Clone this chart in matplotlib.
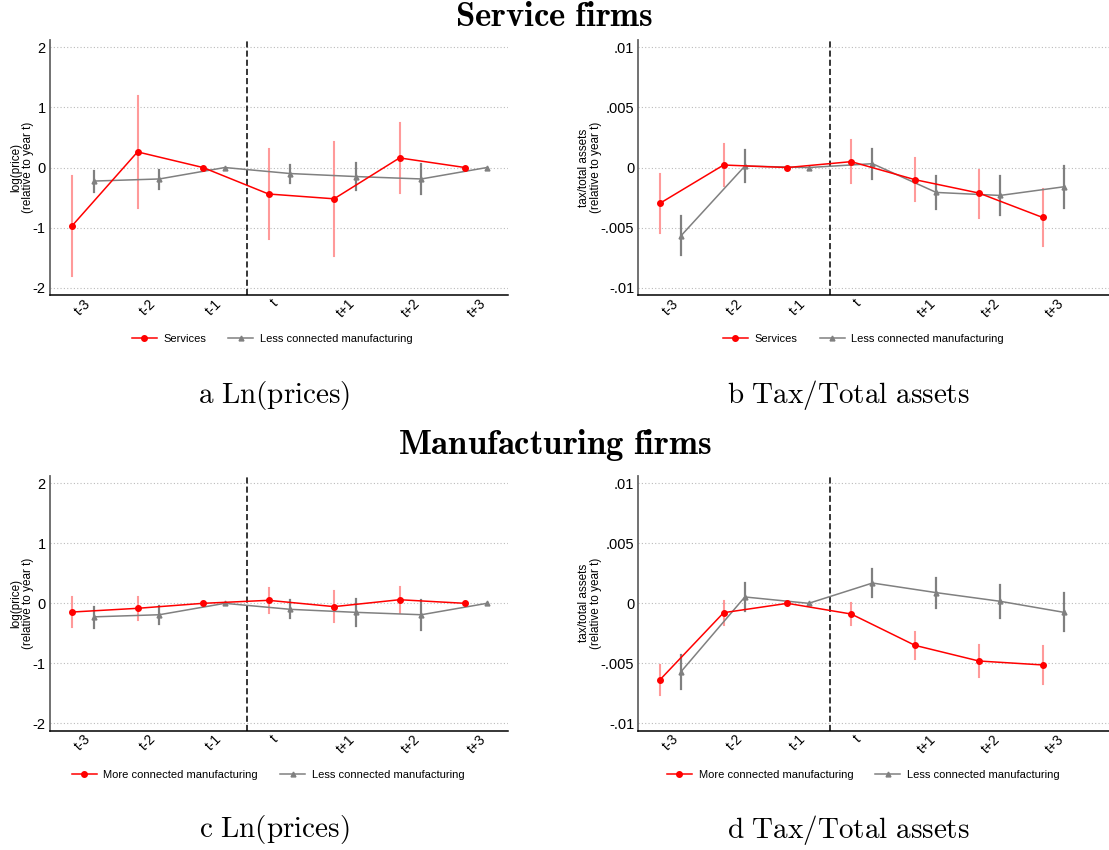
import numpy as np
import matplotlib
matplotlib.use('Agg')
import matplotlib.pyplot as plt

plt.rcParams['font.family'] = ['Liberation Sans', 'DejaVu Sans']
plt.rcParams['mathtext.fontset'] = 'cm'

# Event-time labels ###########################################
periods = ['t-3', 't-2', 't-1', 't', 't+1', 't+2', 't+3']

# Log prices ##################################################
price_services = [-0.97, 0.26, 0.0, -0.44, -0.52, 0.16, 0.0]
price_services_lo = [-1.80, -0.67, 0.0, -1.19, -1.47, -0.43, 0.0]
price_services_hi = [-0.14, 1.19, 0.0, 0.31, 0.42, 0.74, 0.0]

price_more = [-0.145, -0.083, 0.0, 0.05, -0.055, 0.06, 0.0]
price_more_lo = [-0.40, -0.28, 0.0, -0.155, -0.315, -0.155, 0.0]
price_more_hi = [0.10, 0.105, 0.0, 0.25, 0.205, 0.27, 0.0]

price_less = [-0.225, -0.19, 0.0, -0.10, -0.15, -0.19, 0.0]
price_less_lo = [-0.41, -0.35, 0.0, -0.25, -0.38, -0.44, 0.0]
price_less_hi = [-0.06, -0.04, 0.0, 0.05, 0.07, 0.06, 0.0]

# Tax over total assets #######################################
tax_services = [-0.00298, 0.00021, 0.0, 0.00049, -0.00101, -0.00212, -0.00415]
tax_services_lo = [-0.00545, -0.00157, 0.0, -0.00129, -0.00282, -0.00417, -0.0065]
tax_services_hi = [-0.00057, 0.00196, 0.0, 0.00226, 0.00079, -0.00018, -0.00176]

tax_less_s = [-0.00567, 0.00012, 0.0, 0.00032, -0.00207, -0.00232, -0.0016]
tax_less_s_lo = [-0.0073, -0.00123, 0.0, -0.00093, -0.00343, -0.00392, -0.00337]
tax_less_s_hi = [-0.00406, 0.00146, 0.0, 0.00154, -0.00068, -0.00074, 0.00012]

tax_more = [-0.00638, -0.00078, 0.0, -0.00089, -0.0035, -0.0048, -0.00513]
tax_more_lo = [-0.00766, -0.0018, 0.0, -0.0018, -0.0046, -0.0061, -0.0067]
tax_more_hi = [-0.0051, 0.00022, 0.0, 0.00003, -0.00239, -0.00344, -0.00352]

tax_less_m = [-0.00569, 0.00053, 0.0, 0.00169, 0.00089, 0.00017, -0.00075]
tax_less_m_lo = [-0.0071, -0.00067, 0.0, 0.00053, -0.00036, -0.00125, -0.00233]
tax_less_m_hi = [-0.0043, 0.00172, 0.0, 0.00286, 0.00214, 0.00155, 0.00086]

price_ticks = [2, 1, 0, -1, -2]
price_ticklabels = ['2', '1', '0', '-1', '-2']
tax_ticks = [0.01, 0.005, 0, -0.005, -0.01]
tax_ticklabels = ['.01', '.005', '0', '-.005', '-.01']

RED = '#ff0000'
GRAY = '#808080'
SHIFT = 0.333


def draw_panel(ax, red, red_lo, red_hi, red_name, gray, gray_lo, gray_hi,
               ylim, ticks, ticklabels, ylabel, xmax, leg_x):
    x = np.arange(len(periods))
    xg = x + SHIFT
    # confidence intervals (t-1 is the reference year, no interval)
    for i in range(len(x)):
        if red_lo[i] != red_hi[i]:
            ax.plot([x[i], x[i]], [red_lo[i], red_hi[i]], color='#ff9a9a',
                    lw=1.5, zorder=2)
        if gray_lo[i] != gray_hi[i]:
            ax.plot([xg[i], xg[i]], [gray_lo[i], gray_hi[i]], color=GRAY,
                    lw=1.6, zorder=2)
    ax.plot(x, red, color=RED, lw=1.1, marker='o', ms=4, zorder=4,
            label=red_name)
    ax.plot(xg, gray, color=GRAY, lw=1.1, marker='^', ms=3.5, zorder=3,
            label='Less connected manufacturing')
    ax.axvline(2.667, color='black', lw=1.1, ls=(0, (4, 2)), zorder=1)
    for t in ticks:
        ax.axhline(t, color='#bbbbbb', lw=0.8, ls=(0, (1, 2)), zorder=0)
    ax.set_xlim(-0.336, xmax)
    ax.set_ylim(*ylim)
    ax.set_yticks(ticks)
    ax.set_yticklabels(ticklabels, fontsize=10.5)
    ax.set_xticks(x)
    ax.set_xticklabels(periods, rotation=45, ha='left', va='top', fontsize=10)
    ax.tick_params(length=0, pad=3)
    ax.tick_params(axis='x', pad=1)
    ax.set_ylabel(ylabel, fontsize=8.5, labelpad=-1, linespacing=1.0)
    for s in ['top', 'right']:
        ax.spines[s].set_visible(False)
    ax.spines['left'].set_color('#666666')
    ax.spines['left'].set_linewidth(1.3)
    ax.spines['bottom'].set_color('black')
    ax.spines['bottom'].set_linewidth(1.1)
    ax.legend(loc='upper center', bbox_to_anchor=(leg_x, -0.115),
              ncol=2, frameon=False, fontsize=8, handlelength=2.25,
              columnspacing=2.0, handletextpad=0.6)


fig = plt.figure(figsize=(11.09, 8.5), dpi=100)
ax_a = fig.add_axes([0.0451, 0.6529, 0.413, 0.300])
ax_b = fig.add_axes([0.5756, 0.6529, 0.4244, 0.300])
ax_c = fig.add_axes([0.0451, 0.1404, 0.413, 0.2996])
ax_d = fig.add_axes([0.5756, 0.1404, 0.4244, 0.2996])

price_label = 'log(price)\n(relative to year t)'
tax_label = 'tax/total assets\n(relative to year t)'

draw_panel(ax_a, price_services, price_services_lo, price_services_hi, 'Services',
           price_less, price_less_lo, price_less_hi,
           (-2.12, 2.12), price_ticks, price_ticklabels, price_label, 6.656, 0.485)
draw_panel(ax_b, tax_services, tax_services_lo, tax_services_hi, 'Services',
           tax_less_s, tax_less_s_lo, tax_less_s_hi,
           (-0.0106, 0.0106), tax_ticks, tax_ticklabels, tax_label, 7.04, 0.478)
draw_panel(ax_c, price_more, price_more_lo, price_more_hi, 'More connected manufacturing',
           price_less, price_less_lo, price_less_hi,
           (-2.12, 2.12), price_ticks, price_ticklabels, price_label, 6.656, 0.476)
draw_panel(ax_d, tax_more, tax_more_lo, tax_more_hi, 'More connected manufacturing',
           tax_less_m, tax_less_m_lo, tax_less_m_hi,
           (-0.0106, 0.0106), tax_ticks, tax_ticklabels, tax_label, 7.04, 0.478)

# Headings and sub-captions ###################################
fig.text(0.5, 1 - 17 / 850, r'$\mathbf{Service\ firms}$', ha='center', va='center', fontsize=25)
fig.text(0.5, 1 - 445 / 850, r'$\mathbf{Manufacturing\ firms}$', ha='center', va='center', fontsize=25)
fig.text(274 / 1109, 1 - 395 / 850, r'$\mathrm{a\ Ln(prices)}$', ha='center', va='center', fontsize=21)
fig.text(848 / 1109, 1 - 395 / 850, r'$\mathrm{b\ Tax/Total\ assets}$', ha='center', va='center', fontsize=21)
fig.text(274 / 1109, 1 - 830 / 850, r'$\mathrm{c\ Ln(prices)}$', ha='center', va='center', fontsize=21)
fig.text(848 / 1109, 1 - 830 / 850, r'$\mathrm{d\ Tax/Total\ assets}$', ha='center', va='center', fontsize=21)

fig.savefig('out.png', dpi=100, facecolor='white')
